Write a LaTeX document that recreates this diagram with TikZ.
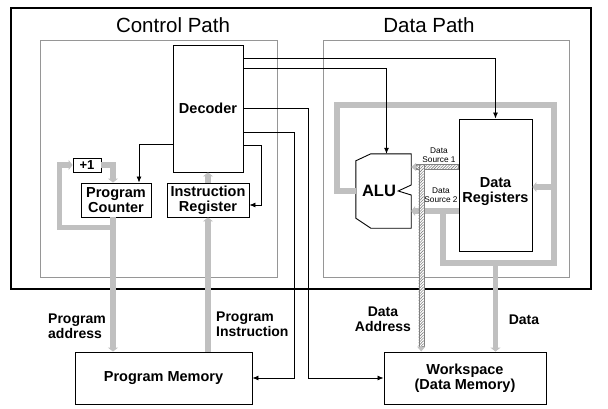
\documentclass[tikz,border=0pt]{standalone}
\usepackage{fontspec}
\setmainfont{Liberation Sans}
\usetikzlibrary{arrows.meta,calc,patterns.meta}

\definecolor{busgray}{RGB}{192,192,192}
\definecolor{framegray}{RGB}{150,150,150}

\tikzset{
  unit/.style={draw, line width=0.9pt, inner sep=0pt, align=center,
    font=\fontsize{14.5}{15}\selectfont\bfseries},
  title/.style={font=\fontsize{20.5}{22}\selectfont},
  tag/.style={align=left, inner sep=0pt, font=\fontsize{14}{15.5}\selectfont\bfseries},
  srctag/.style={align=center, inner sep=0pt, font=\fontsize{8.3}{9.5}\selectfont},
  sig/.style={line width=0.8pt, -{Latex[length=6pt,width=5pt]}},
  bus/.style={draw=busgray, line width=5.5pt},
  busarrow/.style={bus, -{Triangle[width=10pt,length=4pt]}},
  hatchbus/.style={draw=gray, line width=0.4pt, preaction={fill=white},
    pattern={Lines[angle=45,distance=2pt,line width=0.6pt]}, pattern color=gray},
}

\begin{document}
\begin{tikzpicture}[x=1pt,y=-1pt]
    \useasboundingbox (0,0) rectangle (608,408);

    % Frames
    \draw[line width=1.6pt] (11,8) rectangle (591,289);
    \draw[framegray, line width=0.8pt] (40,40) rectangle (277,277);
    \draw[framegray, line width=0.8pt] (323,40) rectangle (569,277);
    \node[title] (ctitle) at (173,25) {Control Path};
    \node[title] (dtitle) at (429,25) {Data Path};

    % Units
    \node[unit, minimum width=70, minimum height=127] (dec) at (208,108.5) {Decoder};
    \node[unit, minimum width=70, minimum height=34] (pc) at (116,200) {Program\\Counter};
    \node[unit, minimum width=82, minimum height=34] (ir) at (208,200) {Instruction\\Register};
    \node[unit, minimum width=28, minimum height=14, font=\fontsize{13}{14}\selectfont\bfseries] (inc) at (87,165) {+1};
    \node[unit, minimum width=177, minimum height=52] (pm) at (163.5,378) {Program Memory};
    \node[unit, minimum width=162, minimum height=52] (ws) at (465,378) {Workspace\\(Data Memory)};
    \node[unit, minimum width=73, minimum height=132,
      label={[font=\fontsize{14.5}{15}\selectfont\bfseries, align=center, yshift=-6.5pt]center:Data\\Registers}] (dreg) at (495.5,185) {};
    \node[minimum width=55, minimum height=74, inner sep=0pt,
      label={[font=\fontsize{16.5}{18}\selectfont\bfseries, xshift=-4.5pt]center:ALU}] (alu) at (383.5,191) {};
    \draw[line width=0.9pt] ([yshift=-7pt]alu.north west) -- ([xshift=15pt]alu.north west)
      -- (alu.north east) -- ([yshift=6pt]alu.east) -- ([xshift=-13pt]alu.east)
      -- ([yshift=-4pt]alu.east) -- (alu.south east) -- ([xshift=15pt]alu.south west)
      -- ([yshift=10pt]alu.south west) -- cycle;

    % Bus points
    \coordinate (pcout) at ([xshift=-3pt]pc.south);
    \coordinate (pcin) at ([xshift=-3pt]pc.north);
    \coordinate (ltop) at (337,105);
    \coordinate (rtop) at (554,105);
    \coordinate (rbot) at (554,263);
    \coordinate (lbot) at (443,263);
    \coordinate (src1) at ([yshift=18pt]dreg.west);
    \coordinate (src2) at ([yshift=-26pt]dreg.west);
    \coordinate (s1a) at (src1 -| alu.east);
    \coordinate (s1v) at ($(s1a)+(10,0)$);
    \coordinate (s1w) at (s1v |- ws.north);

    % Buses
    \draw[busarrow] (pcout) -- (pcout |- pm.north);
    \draw[busarrow] (pcout) -- ++(0,10) -| ($(inc.west)+(-13,0)$) -- (inc.west);
    \draw[busarrow] (inc.east) -| (pcin);
    \draw[busarrow] (ir.south |- pm.north) -- (ir.south);
    \draw[busarrow] (ir.north) -- (dec.south);
    \draw[busarrow] (alu.west) -| (ltop) -- (rtop) |- ([yshift=-2pt]dreg.east);
    \draw[bus] (rtop) -- (rbot) -- (lbot) -- (lbot |- src2);
    \draw[busarrow] (src2) -- (src2 -| alu.east);
    \draw[busarrow] (dreg.south |- rbot) -- (dreg.south |- ws.north);

    % Hatched bus
    \filldraw[hatchbus] ($(s1a)+(5,-2.5)$) rectangle ($(src1)+(0,2.5)$);
    \filldraw[hatchbus] ($(s1v)+(-2.5,-2.5)$) rectangle ($(s1w)+(2.5,-5)$);
    \draw[bus, line width=2pt, -{Triangle[width=8pt,length=5pt]}] ($(s1a)+(6,0)$) -- (s1a);
    \draw[bus, line width=2pt, -{Triangle[width=8pt,length=5pt]}] ($(s1w)+(0,-6)$) -- (s1w);

    % Signals
    \draw[sig] ([yshift=-14pt]dec.north east) -| (dreg.north);
    \draw[sig] ([yshift=-24pt]dec.north east) -| ([xshift=3pt]alu.north);
    \draw[sig] ([yshift=-64pt]dec.north east) -| ($(ws.west)+(-75,0)$) -- (ws.west);
    \draw[sig] ([yshift=-88pt]dec.north east) -| ($(pm.east)+(42,0)$) -- (pm.east);
    \draw[sig] ([yshift=-101pt]dec.north east) -| ($(ir.east)+(12,5)$) -- ([yshift=-5pt]ir.east);
    \draw[sig] ([yshift=-100pt]dec.north west) -| ([xshift=23pt]pc.north);

    % Labels
    \node[tag, anchor=west] (paddr) at (48,326) {Program\\address};
    \node[tag, anchor=west] (pinstr) at (216,324) {Program\\Instruction};
    \node[tag, align=center] (daddr) at (383,319) {Data\\Address};
    \node[tag] (dlbl) at (524,320) {Data};
    \node[srctag] (s1lbl) at (439,155) {Data\\Source 1};
    \node[srctag] (s2lbl) at (441,195) {Data\\Source 2};
\end{tikzpicture}
\end{document}
